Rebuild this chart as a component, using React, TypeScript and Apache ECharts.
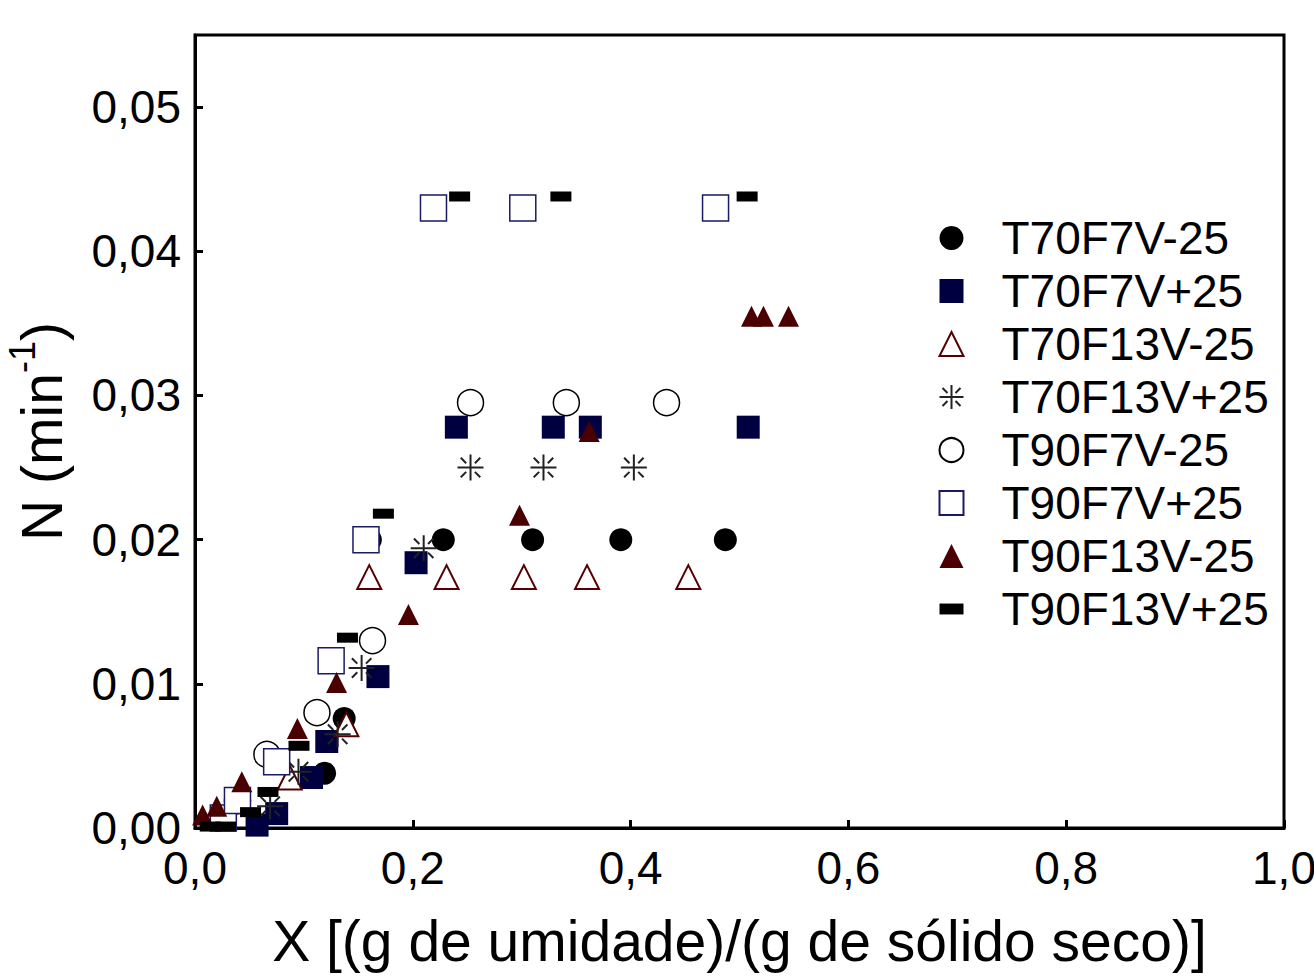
import React, { useEffect, useRef } from "react";
import * as echarts from "echarts";

const FONT = "Liberation Sans, Arial, sans-serif";

const seriesNames = [
  "T70F7V-25",
  "T70F7V+25",
  "T70F13V-25",
  "T70F13V+25",
  "T90F7V-25",
  "T90F7V+25",
  "T90F13V-25",
  "T90F13V+25",
];

const t70f7vMinus = [
  [0.119, 0.0038], [0.137, 0.0076], [0.161, 0.02], [0.228, 0.02], [0.31, 0.02], [0.391, 0.02], [0.487, 0.02],
];
const t70f7vPlus = [
  [0.057, 0.0002], [0.075, 0.001], [0.107, 0.0035], [0.121, 0.006], [0.168, 0.0105], [0.203, 0.0184],
  [0.24, 0.0278], [0.329, 0.0278], [0.363, 0.0278], [0.508, 0.0278],
];
const t70f13vMinus = [
  [0.087, 0.0035], [0.139, 0.0072], [0.16, 0.0174], [0.231, 0.0174], [0.302, 0.0174], [0.36, 0.0174], [0.453, 0.0174],
];
const t70f13vPlus = [
  [0.069, 0.0015], [0.095, 0.0039], [0.131, 0.0065], [0.153, 0.0111], [0.21, 0.0194],
  [0.253, 0.025], [0.32, 0.025], [0.403, 0.025],
];
const t90f7vMinus = [
  [0.039, 0.0019], [0.066, 0.0051], [0.112, 0.008], [0.163, 0.013], [0.253, 0.0295], [0.341, 0.0295], [0.433, 0.0295],
];
const t90f7vPlus = [
  [0.026, 0.0007], [0.039, 0.0019], [0.075, 0.0046], [0.125, 0.0116], [0.157, 0.02],
  [0.219, 0.043], [0.301, 0.043], [0.478, 0.043],
];
const t90f13vMinus = [
  [0.007, 0.0009], [0.02, 0.0015], [0.043, 0.0032], [0.094, 0.0069], [0.13, 0.0101], [0.196, 0.0148],
  [0.298, 0.0217], [0.362, 0.0275], [0.511, 0.0355], [0.522, 0.0355], [0.545, 0.0355],
];
const t90f13vPlus = [
  [0.014, 0.0001], [0.028, 0.0001], [0.051, 0.0011], [0.067, 0.0025], [0.0955, 0.0057], [0.14, 0.0132],
  [0.173, 0.0218], [0.243, 0.0438], [0.336, 0.0438], [0.507, 0.0438],
];

const NAVY = "#000040";
const MAROON = "#4a0000";
const ASTERISK = "path://M12,0L12,24M0,12L24,12M3,3L8,8M16,16L21,21M21,3L16,8M8,16L3,21";
const DASH = "path://M0,0H22V10H0Z";

export default function App() {
  const ref = useRef<HTMLDivElement>(null);
  useEffect(() => {
    if (!ref.current) return;
    const chart = echarts.init(ref.current, null, { renderer: "svg" });
    const mk = (name: string, data: number[][], symbol: string, size: any, itemStyle: any) => ({
      name,
      type: "scatter",
      data,
      symbol,
      symbolSize: size,
      itemStyle: { opacity: 1, ...itemStyle },
      emphasis: { disabled: true },
    });
    chart.setOption({
      animation: false,
      backgroundColor: "#fff",
      textStyle: { fontFamily: FONT },
      grid: {
        left: 195,
        right: 30,
        top: 35,
        bottom: 152,
        show: true,
        borderColor: "#000",
        borderWidth: 3,
        containLabel: false,
        outerBoundsMode: "none",
      },
      legend: {
        orient: "vertical",
        left: 937,
        top: 215,
        padding: 0,
        itemWidth: 24,
        itemHeight: 24,
        itemGap: 7,
        data: seriesNames,
        textStyle: {
          fontSize: 46,
          lineHeight: 46,
          color: "#000",
          fontFamily: FONT,
          padding: [0, 0, 0, 33],
        },
      },
      xAxis: {
        type: "value",
        min: 0,
        max: 1,
        interval: 0.2,
        splitLine: { show: false },
        axisLine: { lineStyle: { color: "#000", width: 3 } },
        axisTick: { inside: true, length: 8, lineStyle: { color: "#000", width: 3 } },
        axisLabel: {
          fontSize: 46,
          color: "#000",
          fontFamily: FONT,
          margin: 17,
          formatter: (v: number) => v.toFixed(1).replace(".", ","),
        },
        name: "X [(g de umidade)/(g de sólido seco)]",
        nameLocation: "middle",
        nameGap: 84,
        nameTextStyle: { fontSize: 57, color: "#000", fontFamily: FONT },
      },
      yAxis: {
        type: "value",
        min: 0,
        max: 0.055,
        interval: 0.01,
        splitLine: { show: false },
        axisLine: { lineStyle: { color: "#000", width: 3 } },
        axisTick: { inside: true, length: 8, lineStyle: { color: "#000", width: 3 } },
        axisLabel: {
          fontSize: 46,
          color: "#000",
          fontFamily: FONT,
          margin: 14,
          showMaxLabel: false,
          formatter: (v: number) => v.toFixed(2).replace(".", ","),
        },
        name: "{a|N (min}{s|-1}{a|)}",
        nameLocation: "middle",
        nameGap: 115,
        nameTextStyle: {
          color: "#000",
          fontFamily: FONT,
          rich: {
            a: { fontSize: 57, color: "#000", fontFamily: FONT, lineHeight: 76 },
            s: { fontSize: 36, color: "#000", fontFamily: FONT, verticalAlign: "top", lineHeight: 36 },
          },
        },
      },
      series: [
        mk(seriesNames[0], t70f7vMinus, "circle", 23, { color: "#000" }),
        mk(seriesNames[1], t70f7vPlus, "rect", 23, { color: NAVY }),
        mk(seriesNames[2], t70f13vMinus, "triangle", 24, { color: "#fff", borderColor: "#550000", borderWidth: 2 }),
        mk(seriesNames[3], t70f13vPlus, ASTERISK, 26, { color: "none", borderColor: "#222", borderWidth: 2 }),
        mk(seriesNames[4], t90f7vMinus, "circle", 26, { color: "#fff", borderColor: "#000", borderWidth: 1.5 }),
        mk(seriesNames[5], t90f7vPlus, "rect", 26, { color: "#fff", borderColor: "#1a1a66", borderWidth: 1.5 }),
        mk(seriesNames[6], t90f13vMinus, "triangle", 21, { color: MAROON }),
        mk(seriesNames[7], t90f13vPlus, DASH, [21, 10], { color: "#000" }),
      ],
    });
    return () => chart.dispose();
  }, []);
  return <div ref={ref} style={{ width: 1314, height: 980, position: "absolute", left: 0, top: 0 }} />;
}
